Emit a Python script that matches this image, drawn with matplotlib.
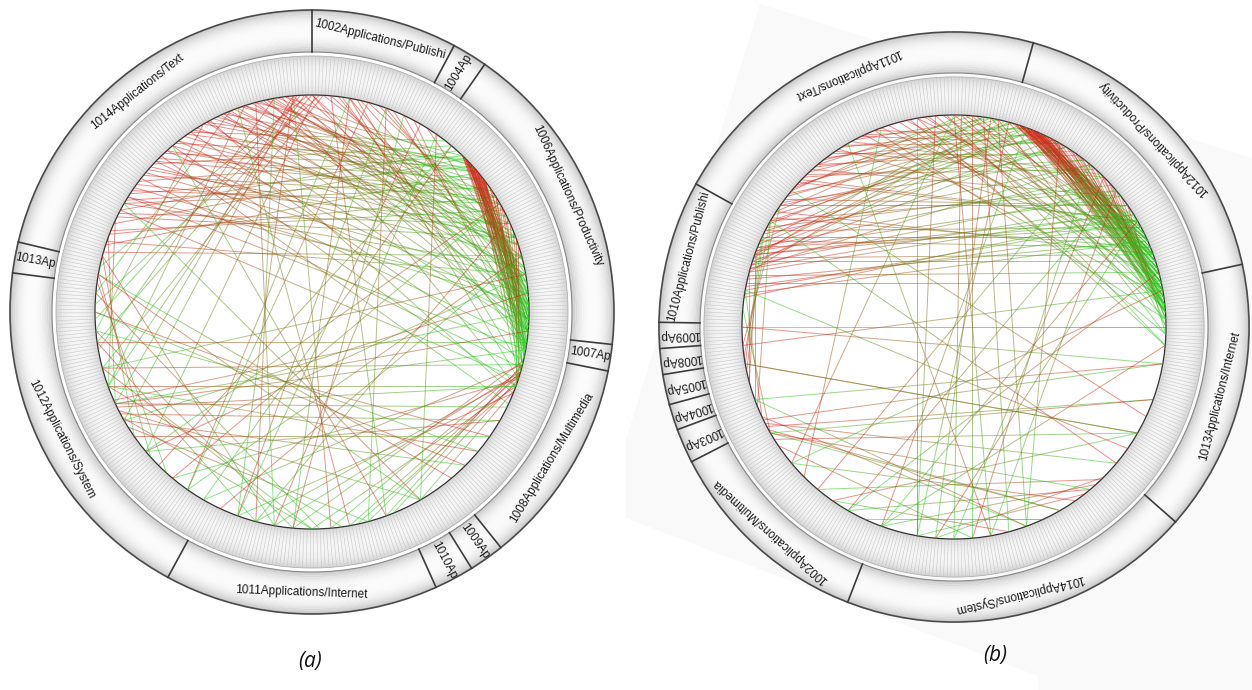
import numpy as np
import matplotlib.pyplot as plt
from matplotlib.patches import Wedge, Circle, Polygon
from matplotlib.collections import LineCollection
from matplotlib.colors import to_rgb

# ---- Diagramm (a) ----
a_names = ["1002Applications/Publishi", "1004Ap", "1006Applications/Productivity", "1007Ap",
           "1008Applications/Multimedia", "1009Ap", "1010Ap", "1011Applications/Internet",
           "1012Applications/System", "1013Ap", "1014Applications/Text"]
a_nodes = [33, 8, 72, 6, 47, 8, 9, 62, 81, 7, 90]   # Knoten je Paket
a_start = 0.0   # Winkel des ersten Pakets, Grad im Uhrzeigersinn ab oben
# Kanten: Quelle (rot) -> Ziel (gruen), Winkel in Grad
a_src = [292, 296, 300, 303, 306, 309, 312, 315, 318, 321, 324, 327, 330, 333, 336,
         339, 342, 345, 348, 351, 300, 310, 320, 335, 298, 313, 326, 344, 305, 318,
         288, 291, 294, 297, 301, 304, 307, 311, 314, 317, 322, 325, 328, 331, 334,
         337, 341, 346, 349, 353, 286, 289, 302, 322, 331,
         358, 0, 2, 356, 359, 1, 357, 3, 350, 355, 330, 338, 342,
         340, 345, 350, 355, 0, 5, 10, 15, 348, 338, 8, 20, 25, 12, 352,
         342, 347, 353, 358, 3, 7, 13, 18, 22, 28, 32, 336, 0, 10,
         45, 46, 47, 48, 49, 50, 51, 52, 46, 48, 50, 53, 44, 47, 49, 52, 45, 51,
         44, 45, 46, 47, 48, 49, 50, 51, 52, 53, 44, 46, 48, 50, 52, 47, 49, 51, 45, 53,
         58, 62, 66, 55, 60, 70, 56, 58, 61, 64, 68, 72,
         302, 308, 314, 320, 326, 332, 298, 316,
         104, 106, 107, 108, 105, 110, 103, 109, 106, 112, 104, 108, 111, 107,
         242, 244, 240, 243, 238, 245, 241, 246,
         285, 280, 290, 278, 295,
         255, 265, 275, 285, 250, 262,
         250, 255, 245, 262, 235, 200, 190, 170, 150, 130, 220, 30, 215, 160, 140,
         120, 195, 225, 65, 75, 85, 20, 35, 10, 355, 230, 270, 280, 205, 185,
         175, 135, 125, 95, 80, 60, 40, 15, 5, 345]
a_dst = [62, 70, 55, 48, 66, 58, 75, 52, 60, 45, 68, 56, 50, 62, 47,
         72, 54, 44, 64, 58, 78, 82, 72, 80, 42, 40, 38, 76, 88, 92,
         50, 58, 45, 66, 52, 60, 44, 70, 56, 48, 64, 50, 72, 46, 58,
         66, 50, 60, 70, 48, 75, 80, 85, 90, 95,
         250, 262, 272, 240, 282, 230, 268, 255, 260, 245, 265, 275, 250,
         80, 88, 75, 92, 85, 78, 90, 70, 95, 86, 100, 82, 95, 105, 110,
         70, 82, 78, 88, 72, 95, 84, 76, 90, 100, 80, 92, 98, 108,
         88, 92, 95, 90, 97, 100, 94, 102, 85, 99, 86, 98, 93, 104, 89, 96, 100, 106,
         86, 90, 96, 88, 102, 92, 95, 99, 90, 104, 98, 100, 94, 108, 86, 92, 101, 88, 83, 94,
         100, 96, 104, 92, 108, 110, 98, 104, 100, 106, 102, 108,
         100, 105, 98, 110, 103, 112, 108, 115,
         160, 165, 170, 158, 175, 180, 185, 168, 190, 200, 210, 220, 150, 195,
         120, 110, 135, 150, 165, 100, 180, 90,
         235, 228, 245, 222, 250,
         180, 185, 178, 190, 172, 195,
         110, 104, 116, 98, 125, 20, 35, 340, 300, 250, 60, 200, 10, 320, 280,
         230, 350, 40, 195, 215, 240, 165, 150, 185, 200, 80, 130, 150, 75, 25,
         355, 270, 265, 245, 255, 230, 210, 215, 160, 190]

# ---- Diagramm (b) ----
b_names = ["1011Applications/Text", "1012Applications/Productivity", "1013Applications/Internet",
           "1014Applications/System", "1002Applications/Multimedia", "1003Ap", "1004Ap",
           "1005Ap", "1008Ap", "1009Ap", "1010Applications/Publishi"]
b_nodes = [90, 73, 63, 82, 49, 8, 6, 7, 6, 6, 33]
b_start = 299.0
b_src = [290, 293, 296, 299, 302, 305, 308, 311, 314, 317, 320, 323, 326, 329, 332,
         335, 288, 295, 305, 315, 300, 310, 285, 320, 338, 292, 303, 297,
         287, 289, 291, 294, 297, 300, 303, 306, 309, 312, 316, 319, 322, 325, 328,
         331, 334, 286, 298, 307, 313, 318, 327, 290, 301,
         18, 19, 20, 21, 22, 23, 24, 20, 22, 19, 25, 21, 23, 18,
         18, 19, 20, 21, 22, 23, 24, 25, 19, 21, 23, 20, 22, 24, 26, 18, 25, 21,
         16, 17, 19, 20, 22, 24, 26, 27, 28, 17, 23, 25, 27, 29,
         30, 35, 40, 28, 45, 32, 37, 42, 48, 52, 33, 36, 39, 44, 47, 50, 55, 34,
         340, 345, 350, 355, 0, 5, 10, 348, 335, 358, 352, 3,
         342, 347, 353, 357, 2, 6, 12, 15, 338, 350,
         280, 283, 286, 289, 292, 284, 278, 287, 281, 285, 288, 291, 294, 279, 282, 290,
         250, 255, 245, 260, 248, 240, 262, 258, 265, 255,
         138, 140, 136, 142, 145, 150, 135, 160, 155, 165,
         241, 240, 243, 238, 245, 242, 236, 244,
         5, 0, 10, 355, 8, 2, 12,
         200, 190, 170, 120, 100, 110, 90, 80, 210, 220, 60, 45, 30, 15,
         270, 265, 260, 230, 225, 215, 185, 175, 130, 125, 115, 95, 75, 50]
b_dst = [15, 22, 40, 18, 25, 55, 20, 8, 60, 16, 5, 24, 45, 30, 10,
         20, 30, 65, 32, 38, 50, 2, 12, 34, 26, 45, 70, 62,
         20, 8, 28, 14, 32, 22, 10, 38, 26, 16, 42, 28, 12, 36, 20,
         44, 30, 40, 48, 55, 60, 52, 65, 58, 68,
         66, 70, 74, 68, 78, 72, 80, 64, 84, 76, 70, 82, 86, 74,
         62, 66, 70, 74, 68, 76, 82, 78, 80, 64, 70, 84, 72, 66, 76, 78, 86, 60,
         66, 72, 84, 78, 62, 74, 82, 70, 86, 80, 64, 72, 78, 84,
         78, 82, 85, 72, 88, 80, 84, 82, 88, 86, 76, 80, 86, 84, 90, 88, 92, 90,
         70, 78, 62, 85, 75, 88, 80, 92, 82, 95, 70, 65,
         74, 68, 80, 72, 84, 70, 92, 86, 88, 95,
         60, 66, 55, 70, 62, 75, 58, 50, 63, 57, 72, 52, 68, 66, 78, 60,
         290, 285, 280, 295, 300, 275, 300, 296, 305, 292,
         200, 210, 220, 190, 230, 240, 185, 250, 205, 215,
         150, 140, 130, 120, 160, 110, 175, 100,
         175, 170, 185, 190, 165, 180, 160,
         20, 350, 330, 260, 250, 240, 270, 230, 50, 40, 200, 180, 160, 190,
         100, 80, 120, 0, 340, 120, 60, 40, 300, 280, 310, 200, 210, 170]

W, H = 1252, 690
fig = plt.figure(figsize=(W / 100, H / 100), dpi=100)
ax = fig.add_axes([0, 0, 1, 1])
ax.set_xlim(0, W)
ax.set_ylim(H, 0)
ax.axis('off')

RED = np.array(to_rgb('#e01414'))
GREEN = np.array(to_rgb('#14d214'))


def pt(cx, cy, r, th):
    t = np.radians(th)
    return cx + r * np.sin(t), cy - r * np.cos(t)


def ring(cx, cy, r0, r1, dark, light, n=24):
    # radialer Grauverlauf
    dr = (r1 - r0) / n
    for i in range(n):
        u = (i + 0.5) / n
        g = light - (light - dark) * abs(2 * u - 1) ** 2.5
        ax.add_patch(Wedge((cx, cy), r0 + (i + 1) * dr, 0, 360, width=dr * 1.1,
                           facecolor=(g, g, g), lw=0, zorder=1))


def wheel(cx, cy, s, start, names, nodes, src, dst, turn, alpha=0.5):
    r_line, r_in1, r_lab0, r_lab1 = 217 * s, 256 * s, 260 * s, 302 * s
    ring(cx, cy, r_line, r_in1, 0.82, 0.96)
    ring(cx, cy, r_lab0, r_lab1, 0.76, 0.985)
    ax.add_patch(Circle((cx, cy), r_line, facecolor='white', edgecolor='#333333', lw=0.9, zorder=3))
    ax.add_patch(Circle((cx, cy), r_lab1, fill=False, edgecolor='#4a4a4a', lw=1.2, zorder=3))
    ax.add_patch(Circle((cx, cy), r_lab0, fill=False, edgecolor='#8a8a8a', lw=0.8, zorder=3))
    ax.add_patch(Circle((cx, cy), r_in1, fill=False, edgecolor='#b0b0b0', lw=0.6, zorder=3))

    # feine Striche im inneren Ring, einer je Knoten
    N = sum(nodes)
    ang = start + 360 * np.arange(N) / N
    a0 = np.column_stack(pt(cx, cy, r_line + 1, ang))
    a1 = np.column_stack(pt(cx, cy, r_in1 - 1, ang))
    ax.add_collection(LineCollection(np.stack([a0, a1], axis=1), colors='#c2c2c2',
                                     linewidths=0.35, zorder=2))

    bounds = start + 360 * np.cumsum([0] + list(nodes)) / N
    for b in bounds[:-1]:
        x0, y0 = pt(cx, cy, r_lab0, b)
        x1, y1 = pt(cx, cy, r_lab1, b)
        ax.plot([x0, x1], [y0, y1], color='#3c3c3c', lw=1.2, zorder=4)

    r_mid = (r_lab0 + r_lab1) / 2
    for name, b0, b1 in zip(names, bounds[:-1], bounds[1:]):
        mid = (b0 + b1) / 2
        if b1 - b0 > 15:
            rot = -mid if np.cos(np.radians(mid - turn)) > 0 else 180 - mid
        else:
            rot = 90 - mid + (180 if np.sin(np.radians(mid - turn)) < 0 else 0)
        x, y = pt(cx, cy, r_mid, mid)
        clip = Wedge((cx, cy), r_lab1, b0 - 90, b1 - 90, width=r_lab1 - r_lab0,
                     transform=ax.transData)
        t = ax.text(x, y, name, rotation=rot, rotation_mode='anchor', ha='center',
                    va='center', fontsize=8.5, family='Liberation Sans', color='#1a1a1a',
                    zorder=5)
        t.set_clip_path(clip)

    # Kanten mit Farbverlauf rot -> gruen
    tt = np.linspace(0, 1, 13)
    segs, cols = [], []
    for s_, d_ in zip(src, dst):
        p0 = np.array(pt(cx, cy, r_line, s_))
        p1 = np.array(pt(cx, cy, r_line, d_))
        pts = p0[None, :] + tt[:, None] * (p1 - p0)[None, :]
        for k in range(len(tt) - 1):
            segs.append(pts[k:k + 2])
            u = (tt[k] + tt[k + 1]) / 2
            cols.append(tuple((1 - u) * RED + u * GREEN) + (alpha,))
    ax.add_collection(LineCollection(segs, colors=cols, linewidths=0.7, zorder=4))


# blasser, gedrehter Hintergrund von (b)
ax.add_patch(Polygon([(760, 4), (1252, 158), (1252, 690), (1038, 690), (1038, 676),
                      (626, 518), (626, 440)], closed=True, facecolor='#f9f9f9', lw=0, zorder=0))

wheel(312, 312, 1.0, a_start, a_names, a_nodes, a_src, a_dst, turn=0)
wheel(954, 327, 0.977, b_start, b_names, b_nodes, b_src, b_dst, turn=200)

ax.text(310, 662, "(a)", fontsize=15, style='italic', family=['Open Sans', 'DejaVu Sans'],
        ha='center', va='center', color='#111111')
ax.text(995, 655, "(b)", fontsize=15, style='italic', family=['Open Sans', 'DejaVu Sans'],
        ha='center', va='center', color='#111111')

fig.savefig('out.png', dpi=100)
